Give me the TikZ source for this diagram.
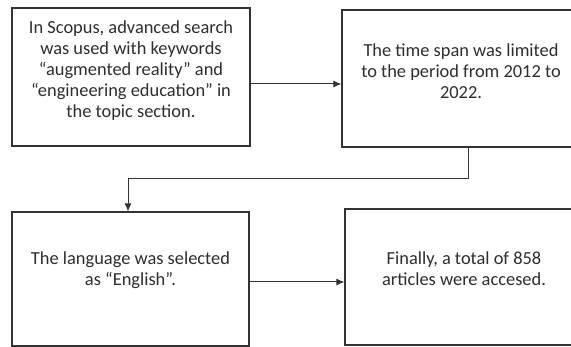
\documentclass[tikz,border=0pt]{standalone}
\usepackage{fontspec}
\setmainfont{Carlito}
\usetikzlibrary{arrows.meta}
\begin{document}
\begin{tikzpicture}[x=1pt,y=-1pt,
  box/.style={draw=black!80,line width=1.2pt,fill=white,inner sep=0pt},
  txt/.style={align=center,font=\fontsize{18.4}{21}\selectfont,text=black!82,inner sep=0pt},
  arr/.style={draw=black!80,line width=1pt,-{Latex[length=8pt,width=7pt]}}]
\clip (0,0) rectangle (571,347);
\fill[white] (0,0) rectangle (571,347);
\node[box,minimum width=238pt,minimum height=138pt] (b1) at (131,77) {};
\node[box,minimum width=238pt,minimum height=137pt] (b2) at (461,78.5) {};
\node[box,minimum width=237pt,minimum height=134pt] (b3) at (130.5,279) {};
\node[box,minimum width=238pt,minimum height=136pt] (b4) at (464,277) {};
\node[txt] (t1) at ([yshift=6pt]b1.center) {In Scopus, advanced search\\was used with keywords\\“augmented reality” and\\“engineering education” in\\the topic section.};
\node[txt] (t2) at ([yshift=7pt]b2.center) {The time span was limited\\to the period from 2012 to\\2022.};
\node[txt] (t3) at ([yshift=9pt]b3.center) {The language was selected\\as “English”.};
\node[txt] (t4) at ([yshift=8pt]b4.center) {Finally, a total of 858\\articles were accesed.};
\coordinate (bend) at (468,179);
\draw[arr] ([yshift=-7pt]b1.east) -- ([yshift=-7pt]b1.east -| b2.west);
\draw[arr] (bend |- b2.south) -- (bend) -| ([xshift=-2.5pt]b3.north);
\draw[arr] ([yshift=-3pt]b3.east) -- ([yshift=-3pt]b3.east -| b4.west);
\end{tikzpicture}
\end{document}
